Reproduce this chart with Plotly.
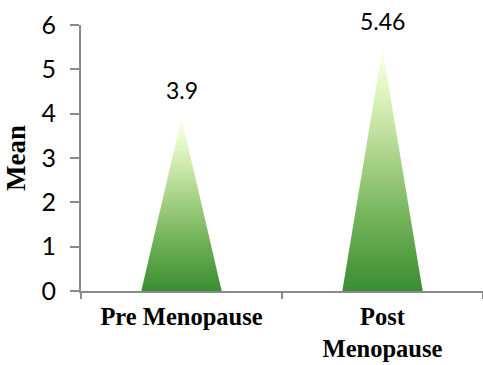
import plotly.graph_objects as go

categories = ["Pre Menopause", "Post<br>Menopause"]
means = [3.9, 5.46]
y_ticks = [0, 1, 2, 3, 4, 5, 6]

half_width = 0.2
grad = [[0.0, "#3a8d31"], [0.3, "#73b35a"], [0.55, "#a9d388"],
        [0.8, "#dcf2bc"], [0.92, "#eefed8"], [1.0, "#fdfdeb"]]

fig = go.Figure()
for i, v in enumerate(means):
    fig.add_trace(go.Scatter(
        x=[i - half_width, i, i + half_width, i - half_width],
        y=[0, v, 0, 0],
        mode="none",
        fill="toself",
        fillgradient=dict(type="vertical", colorscale=grad),
        showlegend=False,
        hoverinfo="skip",
    ))
    fig.add_annotation(
        x=i, y=v, text=str(v), showarrow=False,
        yanchor="middle", yshift=28,
        font=dict(family="Lato", size=23, color="#000000"),
    )

axis_color = "#8a8a8a"
fig.update_layout(
    width=483, height=365,
    margin=dict(l=81, r=0, t=25, b=74),
    paper_bgcolor="white", plot_bgcolor="white",
    xaxis=dict(
        range=[-0.5, 1.5], automargin=False,
        tickmode="array", tickvals=[0, 1], ticktext=categories,
        ticks="", showgrid=False, zeroline=False,
        showline=True, linecolor=axis_color, linewidth=2,
        tickfont=dict(family="Times New Roman, Liberation Serif", size=24.5,
                      color="#000000", weight="bold"),
        ticklabelstandoff=3,
        minor=dict(tickmode="array", tickvals=[-0.5, 0.5, 1.5], ticks="outside",
                   ticklen=6, tickcolor=axis_color, tickwidth=1.5),
        fixedrange=True,
    ),
    yaxis=dict(
        range=[0, 6], automargin=False,
        tickmode="array", tickvals=y_ticks,
        ticks="outside", ticklen=9, tickcolor=axis_color, tickwidth=1.5,
        showgrid=False, zeroline=False,
        showline=True, linecolor=axis_color, linewidth=2,
        tickfont=dict(family="Lato", size=25, color="#000000"),
        ticklabelstandoff=9,
        title=dict(text="<b>Mean</b>", standoff=8,
                   font=dict(family="Times New Roman, Liberation Serif", size=27,
                             color="#000000")),
        fixedrange=True,
    ),
)

fig.write_html("out.html")
